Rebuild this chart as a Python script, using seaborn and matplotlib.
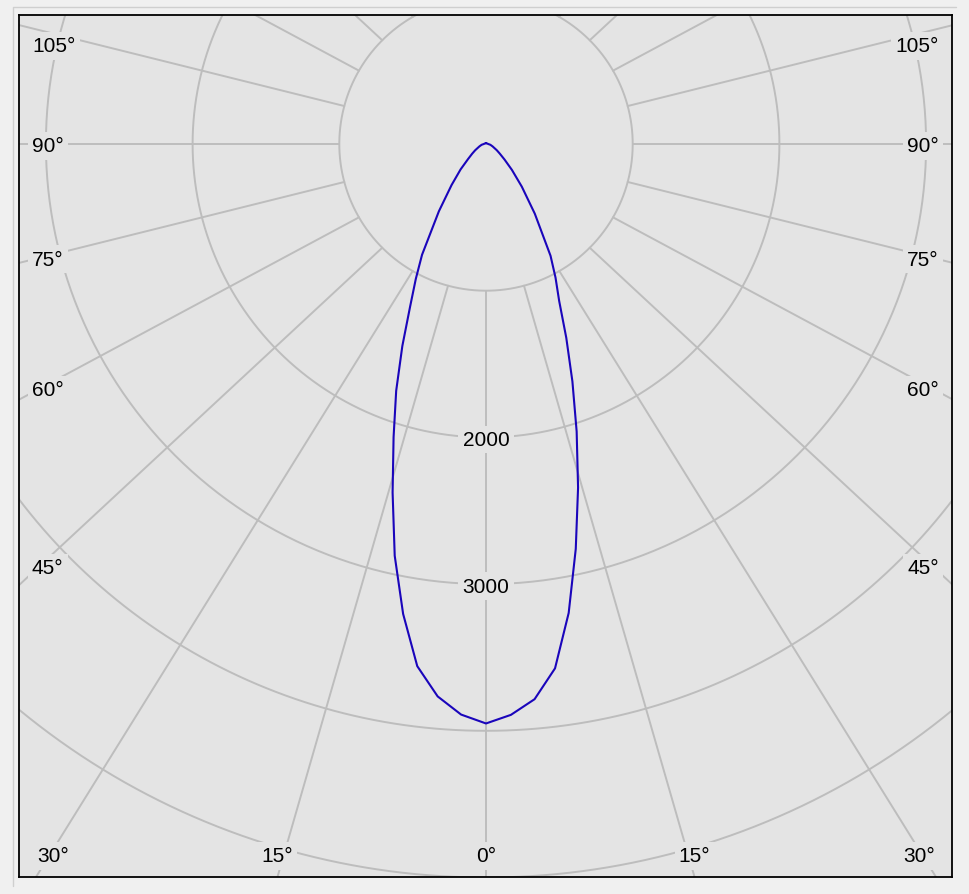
import numpy as np
import pandas as pd
import matplotlib
matplotlib.use("Agg")
import matplotlib.pyplot as plt
import seaborn as sns

# --- DATA: luminous intensity (cd) ---
angles = [0, 2.5, 5, 7.5, 10, 12.5, 15, 17.5, 20, 22.5, 25, 27.5, 30,
          35, 40, 45, 50, 55, 60, 70, 80, 90, 120, 150, 180]
cd_left = [3950, 3893, 3780, 3590, 3253, 2875, 2460, 2095, 1790, 1490, 1225, 1036, 872,
           560, 365, 245, 160, 115, 85, 48, 30, 15, 8, 6, 5]
cd_right = [3950, 3895, 3799, 3605, 3246, 2827, 2425, 2055, 1722, 1430, 1180, 1026, 880,
            580, 380, 250, 165, 115, 85, 48, 30, 15, 8, 6, 5]

ring_values = [1000, 2000, 3000, 4000, 5000]
ring_labels = [2000, 3000]
angle_labels = [0, 15, 30, 45, 60, 75, 90, 105]

# --- STYLE ---
BG = "#e4e4e4"
OUTER = "#f0f0f0"
GRID = "#bdbdbd"
CURVE = "#1a05bb"
PX = 1000 / 146.7      # cd per screen pixel
K = 1.067              # horizontal stretch of the spokes in the original tool

sns.set_theme(style="white", rc={"axes.facecolor": BG, "figure.facecolor": OUTER})
plt.rcParams["font.family"] = ["Liberation Sans", "DejaVu Sans"]

fig = plt.figure(figsize=(9.69, 8.95), dpi=100)
ax = fig.add_axes([19 / 969, 17 / 895, 933 / 969, 862 / 895])

# rings
t = np.linspace(0, 2 * np.pi, 721)
for r in ring_values:
    ax.plot(r * np.sin(t), r * np.cos(t), color=GRID, lw=1.4, zorder=1)

# spokes every 15 degrees, starting at the inner ring
def spoke(a):
    th = np.radians(a)
    x0, y0 = 1000 * np.sin(th), -1000 * np.cos(th)
    x1, y1 = 8000 * K * np.sin(th), -8000 * np.cos(th)
    return x0, y0, x1, y1

for a in range(-180, 181, 15):
    x0, y0, x1, y1 = spoke(a)
    ax.plot([x0, x1], [y0, y1], color=GRID, lw=1.4, zorder=1)

# curve (left half drawn from 180 down to 0, then right half 0 -> 180)
th_l = np.radians(angles[::-1])
th_r = np.radians(angles)
curve = pd.DataFrame({
    "x": np.concatenate([-np.array(cd_left[::-1]) * np.sin(th_l), np.array(cd_right) * np.sin(th_r)]),
    "y": np.concatenate([-np.array(cd_left[::-1]) * np.cos(th_l), -np.array(cd_right) * np.cos(th_r)]),
})
sns.lineplot(data=curve, x="x", y="y", sort=False, estimator=None,
             color=CURVE, lw=1.5, ax=ax, zorder=4)

box = dict(facecolor=BG, edgecolor="none", pad=3)
half_h = 7.5 * PX   # half digit height, text is placed on its baseline
fs = 15

# intensity labels on the 0 degree spoke
for r in ring_labels:
    ax.text(0, -r - half_h, str(r), ha="center", va="baseline",
            fontsize=fs, color="black", bbox=box, zorder=3)

# angle labels around the frame
y_bottom = -733 * PX
for a in angle_labels:
    for s in ([1] if a == 0 else [-1, 1]):
        txt = f"{a}°"
        if a <= 30:
            x0, y0, x1, y1 = spoke(s * a)
            tt = (y_bottom - y0) / (y1 - y0)
            x = x0 + tt * (x1 - x0)
            x = np.clip(x, -433 * PX, 433 * PX)
            ax.text(x, -710 * PX - half_h, txt, ha="center", va="baseline",
                    fontsize=fs, color="black", bbox=box, zorder=3)
        else:
            th = np.radians(a)
            y = -422 / np.tan(th) * PX
            y = min(y, 100 * PX)
            if s < 0:
                ax.text(-454 * PX, y - half_h, txt, ha="left", va="baseline",
                        fontsize=fs, color="black", bbox=box, zorder=3)
            else:
                ax.text(453 * PX, y - half_h, txt, ha="right", va="baseline",
                        fontsize=fs, color="black", bbox=box, zorder=3)

ax.set_xlim(-467 * PX, 466 * PX)
ax.set_ylim(-733 * PX, 129 * PX)
ax.set_xticks([])
ax.set_yticks([])
ax.set_xlabel("")
ax.set_ylabel("")
for sp in ax.spines.values():
    sp.set_visible(True)
    sp.set_color("black")
    sp.set_linewidth(1.3)
    sp.set_zorder(5)

# thin etched group-box lines (top and left only)
fig.add_artist(plt.Line2D([13 / 969, 13 / 969, 956 / 969], [1 - 887 / 895, 1 - 8 / 895, 1 - 8 / 895],
                          transform=fig.transFigure, color="#cfcfcf", lw=1))

fig.savefig("out.png", dpi=100, facecolor=fig.get_facecolor())
